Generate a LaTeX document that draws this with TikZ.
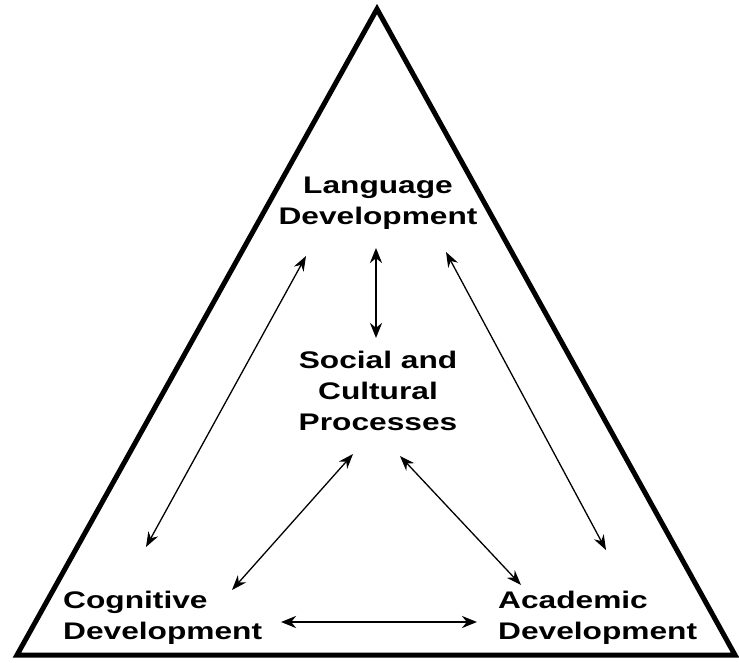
\documentclass[tikz,border=0pt]{standalone}
\usepackage{fontspec}
\setmainfont{Liberation Sans}
\newfontfamily\lblfont[FakeStretch=1.32]{Liberation Sans}
\usetikzlibrary{arrows.meta}
\begin{document}
\begin{tikzpicture}[x=1pt,y=-1pt,
  lbl/.style={font=\lblfont\bfseries\fontsize{24}{31}\selectfont, inner sep=0pt, align=center},
  edge/.style={line width=5pt, line join=miter},
  thin/.style={line width=1.3pt, {Stealth[length=15pt,width=11pt]}-{Stealth[length=15pt,width=11pt]}},
  thick/.style={line width=2.6pt, {Stealth[length=15pt,width=12pt]}-{Stealth[length=15pt,width=12pt]}}]
\useasboundingbox (0,0) rectangle (739,663);
% triangle
\coordinate (apex) at (377,9);
\coordinate (bl) at (17,655);
\coordinate (br) at (735,655);
\draw[edge] (apex) -- (br) -- (bl) -- cycle;
% labels
\node[lbl] (lang) at (378,203) {Language\\Development};
\node[lbl] (soc) at (378,391) {Social and\\Cultural\\Processes};
\node[lbl, align=left, anchor=west] (cog) at (63,618) {Cognitive\\Development};
\node[lbl, align=left, anchor=west] (acad) at (498,618) {Academic\\Development};
% arrow ends
\coordinate (v1) at (376,248);
\coordinate (v2) at (376,338);
\coordinate (l1) at (306,256);
\coordinate (l2) at (146,547);
\coordinate (r1) at (446,252);
\coordinate (r2) at (606,550);
\coordinate (sc1) at (353,454);
\coordinate (sc2) at (232,590);
\coordinate (sa1) at (400,456);
\coordinate (sa2) at (521,585);
\coordinate (h1) at (281,622);
\coordinate (h2) at (477,622);
\draw[thick] (v1) -- (v2);
\draw[thin] (l1) -- (l2);
\draw[thin] (r1) -- (r2);
\draw[thin] (sc1) -- (sc2);
\draw[thin] (sa1) -- (sa2);
\draw[thick] (h1) -- (h2);
\end{tikzpicture}
\end{document}
